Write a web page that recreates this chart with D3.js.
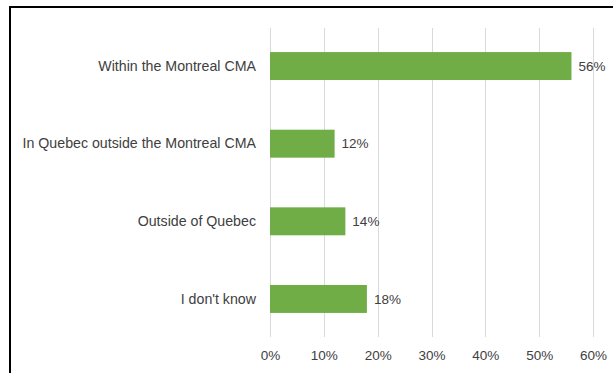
<!DOCTYPE html>
<html>
<head>
<meta charset="utf-8">
<script src="https://cdn.jsdelivr.net/npm/d3@7"></script>
<style>
  html, body { margin: 0; padding: 0; background: #fff; }
  svg { display: block; }
  text { font-family: "Liberation Sans", Arial, sans-serif; fill: #404040; }
</style>
</head>
<body>
<svg id="chart" width="613" height="373"></svg>
<script>
// Where respondents are located
const categories = [
  "Within the Montreal CMA",
  "In Quebec outside the Montreal CMA",
  "Outside of Quebec",
  "I don't know"
];
const values = [56, 12, 14, 18];
const tickValues = [0, 10, 20, 30, 40, 50, 60];

const svg = d3.select("#chart");
const W = 613, H = 373;

// chart frame
svg.append("rect")
  .attr("x", 10).attr("y", 7)
  .attr("width", W + 10).attr("height", H + 10)
  .attr("fill", "none").attr("stroke", "#000").attr("stroke-width", 2);

const plot = { left: 270, right: 593, top: 28, bottom: 337 };

const x = d3.scaleLinear().domain([0, 60]).range([plot.left, plot.right]);
const y = d3.scaleBand().domain(categories)
  .range([plot.top, plot.bottom]).paddingInner(0.64).paddingOuter(0.31);

// vertical gridlines
svg.append("g").selectAll("line").data(tickValues).join("line")
  .attr("x1", d => Math.round(x(d)) + 0.5).attr("x2", d => Math.round(x(d)) + 0.5)
  .attr("y1", plot.top).attr("y2", plot.bottom)
  .attr("stroke", "#d9d9d9").attr("stroke-width", 1);

// x axis tick labels
const xAxis = d3.axisBottom(x).tickValues(tickValues)
  .tickFormat(d => d + "%").tickSize(0).tickPadding(13);
const gx = svg.append("g").attr("transform", `translate(0,${plot.bottom})`).call(xAxis);
gx.select(".domain").remove();
gx.selectAll("text").attr("font-size", 13.5).attr("fill", "#404040")
  .style("font-family", "'Liberation Sans', Arial, sans-serif");

// category labels
const yAxis = d3.axisLeft(y).tickSize(0).tickPadding(14);
const gy = svg.append("g").attr("transform", `translate(${plot.left},0)`).call(yAxis);
gy.select(".domain").remove();
gy.selectAll("text").attr("font-size", 14.2).attr("fill", "#404040")
  .style("font-family", "'Liberation Sans', Arial, sans-serif");

// bars
svg.append("g").selectAll("rect").data(categories).join("rect")
  .attr("x", x(0))
  .attr("y", d => y(d))
  .attr("width", (d, i) => x(values[i]) - x(0))
  .attr("height", y.bandwidth())
  .attr("fill", "#70ad47");

// value labels
svg.append("g").selectAll("text").data(categories).join("text")
  .attr("x", (d, i) => x(values[i]) + 7)
  .attr("y", d => y(d) + y.bandwidth() / 2)
  .attr("dy", "0.35em")
  .attr("font-size", 13.5)
  .text((d, i) => values[i] + "%");
</script>
</body>
</html>
